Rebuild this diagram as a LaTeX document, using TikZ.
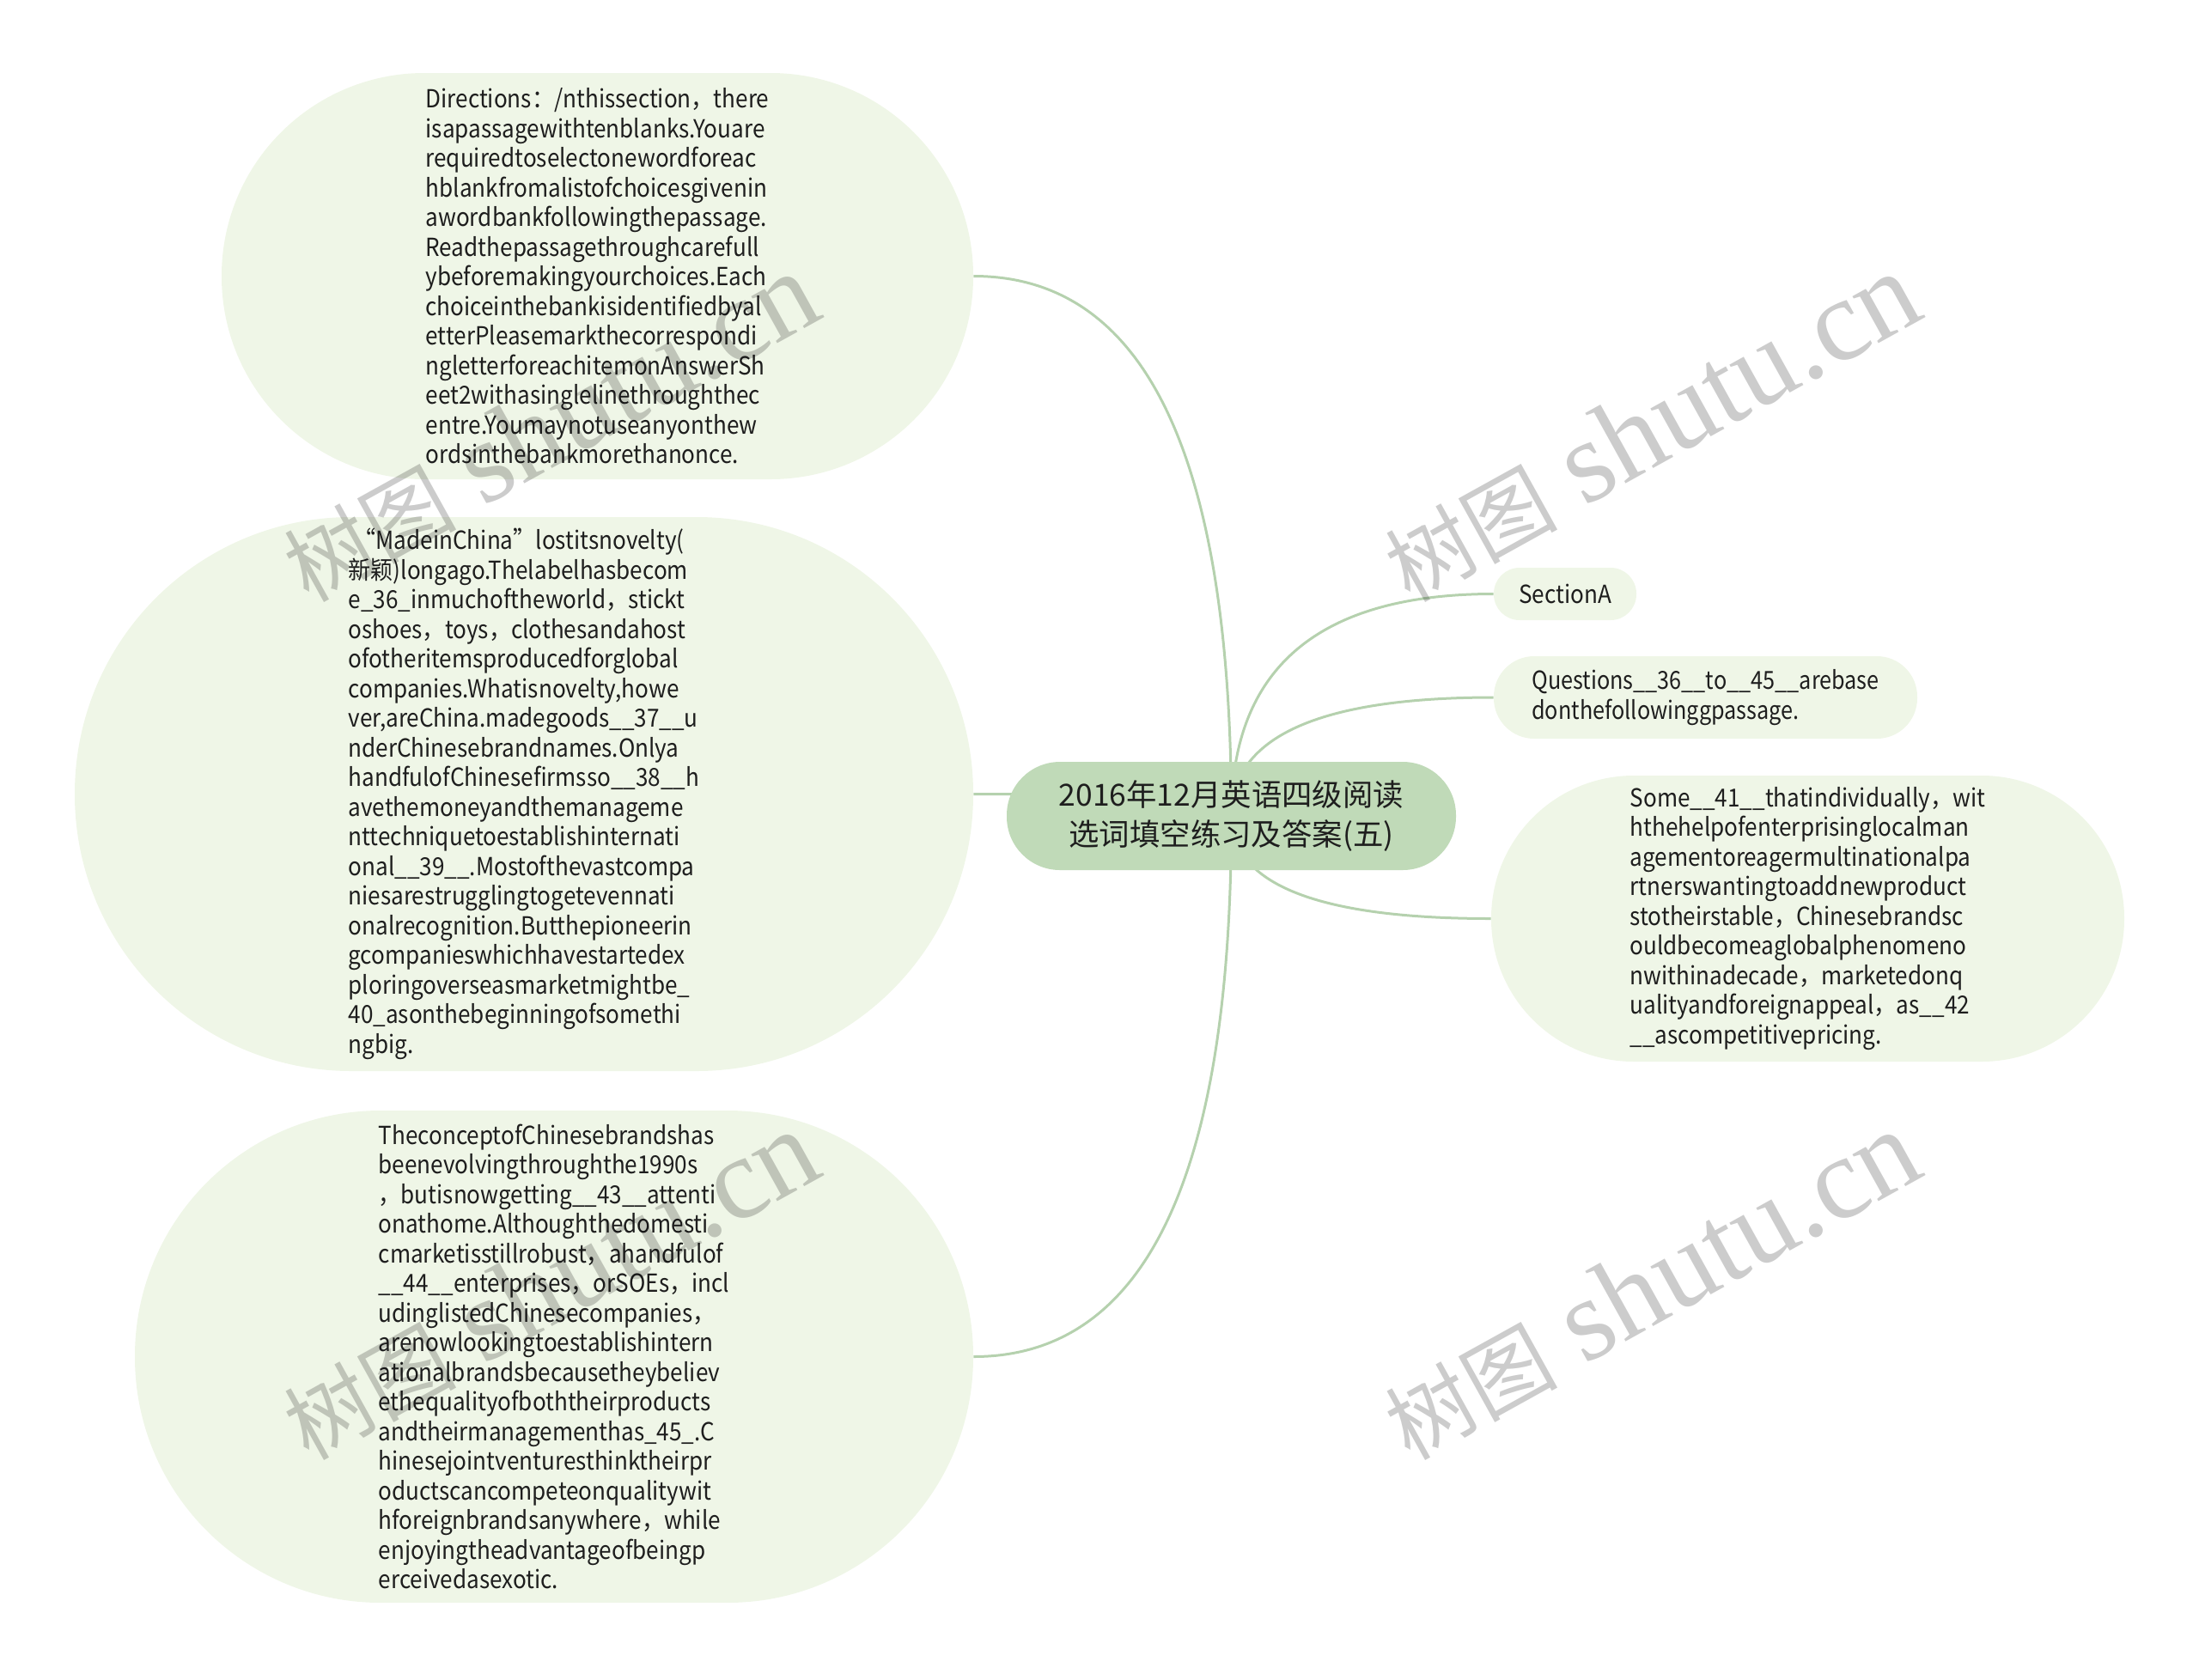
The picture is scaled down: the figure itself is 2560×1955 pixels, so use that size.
\documentclass[tikz,border=0pt]{standalone}
\usepackage{fontspec}
\setmainfont{Noto Sans CJK SC}
\newfontfamily\bodyfont{Noto Sans CJK SC}[FakeStretch=0.9]
\newfontfamily\qfont{Noto Sans CJK SC}[FakeStretch=0.87]
\newfontfamily\wmcjk{Noto Sans CJK SC}
\newfontfamily\wmlat{Liberation Serif}
\usetikzlibrary{calc}
\definecolor{childfill}{RGB}{239,246,231}
\definecolor{centerfill}{RGB}{192,218,184}
\definecolor{linecol}{RGB}{181,209,174}
\definecolor{txt}{RGB}{30,30,30}
\pgfdeclarelayer{bg}
\pgfdeclarelayer{fg}
\pgfsetlayers{bg,main,fg}
\tikzset{
  box/.style={fill=childfill, inner sep=0pt, align=left, text=txt,
    font=\bodyfont\fontsize{14.5}{17.25}\selectfont},
  topic/.style={fill=centerfill, inner sep=0pt, align=center, text=txt,
    font=\fontsize{17.7}{23}\selectfont},
  conn/.style={draw=linecol, line width=1.5pt},
  wmark/.style={rotate=29, text=black, text opacity=0.2, inner sep=0pt}
}
\newcommand{\wmtext}{{\wmcjk\fontsize{50}{50}\selectfont 树图}\hspace{16pt}{\wmlat\fontsize{68}{68}\selectfont shutu.cn}}
\begin{document}
\begin{tikzpicture}[x=0.5pt,y=-0.5pt]
\useasboundingbox (0,0) rectangle (2560,1955);

\node[topic, minimum width=261.5pt, minimum height=63pt, rounded corners=31pt] (c) at (1433.5,950)
  {2016年12月英语四级阅读\\选词填空练习及答案(五)};

\node[box, minimum width=437.5pt, minimum height=236.5pt, rounded corners=118pt] (d1) at (695.5,321.5) {%
Directions：/nthissection，there\\
isapassagewithtenblanks.Youare\\
requiredtoselectonewordforeac\\
hblankfromalistofchoicesgivenin\\
awordbankfollowingthepassage.\\
Readthepassagethroughcarefull\\
ybeforemakingyourchoices.Each\\
choiceinthebankisidentifiedbyal\\
etterPleasemarkthecorrespondi\\
ngletterforeachitemonAnswerSh\\
eet2withasinglelinethroughthec\\
entre.Youmaynotuseanyonthew\\
ordsinthebankmorethanonce.};

\node[box, minimum width=523pt, minimum height=322.5pt, rounded corners=161pt] (d2) at (610,924.5) {%
\hspace{3pt}“MadeinChina”lostitsnovelty(\\
新颖)longago.Thelabelhasbecom\\
e\_36\_inmuchoftheworld，stickt\\
oshoes，toys，clothesandahost\\
ofotheritemsproducedforglobal\\
companies.Whatisnovelty,howe\\
ver,areChina.madegoods\_\_37\_\_u\\
nderChinesebrandnames.Onlya\\
handfulofChinesefirmsso\_\_38\_\_h\\
avethemoneyandthemanageme\\
nttechniquetoestablishinternati\\
onal\_\_39\_\_.Mostofthevastcompa\\
niesarestrugglingtogetevennati\\
onalrecognition.Butthepioneerin\\
gcompanieswhichhavestartedex\\
ploringoverseasmarketmightbe\_\\
40\_asonthebeginningofsomethi\\
ngbig.};

\node[box, minimum width=488pt, minimum height=286.5pt, rounded corners=143pt] (d3) at (645,1579.5) {%
TheconceptofChinesebrandshas\\
beenevolvingthroughthe1990s\\
，butisnowgetting\_\_43\_\_attenti\\
onathome.Althoughthedomesti\\
cmarketisstillrobust，ahandfulof\\
\_\_44\_\_enterprises，orSOEs，incl\\
udinglistedChinesecompanies，\\
arenowlookingtoestablishintern\\
ationalbrandsbecausetheybeliev\\
ethequalityofboththeirproducts\\
andtheirmanagementhas\_45\_.C\\
hinesejointventuresthinktheirpr\\
oductscancompeteonqualitywit\\
hforeignbrandsanywhere，while\\
enjoyingtheadvantageofbeingp\\
erceivedasexotic.};

\node[box, minimum width=83pt, minimum height=30.5pt, rounded corners=15pt] (s) at (1822,691.5) {SectionA};

\node[box, font=\qfont\fontsize{14.5}{17.25}\selectfont, minimum width=246.5pt, minimum height=48pt, rounded corners=23.5pt] (q) at (1985.5,812) {%
Questions\_\_36\_\_to\_\_45\_\_arebase\\
donthefollowinggpassage.};

\node[box, minimum width=368.5pt, minimum height=166.5pt, rounded corners=83pt] (r) at (2104.5,1069.5) {%
Some\_\_41\_\_thatindividually，wit\\
hthehelpofenterprisinglocalman\\
agementoreagermultinationalpa\\
rtnerswantingtoaddnewproduct\\
stotheirstable，Chinesebrandsc\\
ouldbecomeaglobalphenomeno\\
nwithinadecade，marketedonq\\
ualityandforeignappeal，as\_\_42\\
\_\_ascompetitivepricing.};

\begin{pgfonlayer}{bg}
\foreach \n/\a in {d1/east,d2/east,d3/east,s/west,q/west,r/west}{
  \draw[conn] (c.center) .. controls ($(c.center)!2/3!(c.center |- \n.\a)$)
    and ($(\n.\a)!2/3!(c.center |- \n.\a)$) .. (\n.\a);
}
\end{pgfonlayer}

\begin{pgfonlayer}{fg}
\node[wmark] (w1) at (640,498) {\wmtext};
\node[wmark] (w2) at (1922,498) {\wmtext};
\node[wmark] (w3) at (640,1497) {\wmtext};
\node[wmark] (w4) at (1922,1497) {\wmtext};
\end{pgfonlayer}
\end{tikzpicture}
\end{document}
